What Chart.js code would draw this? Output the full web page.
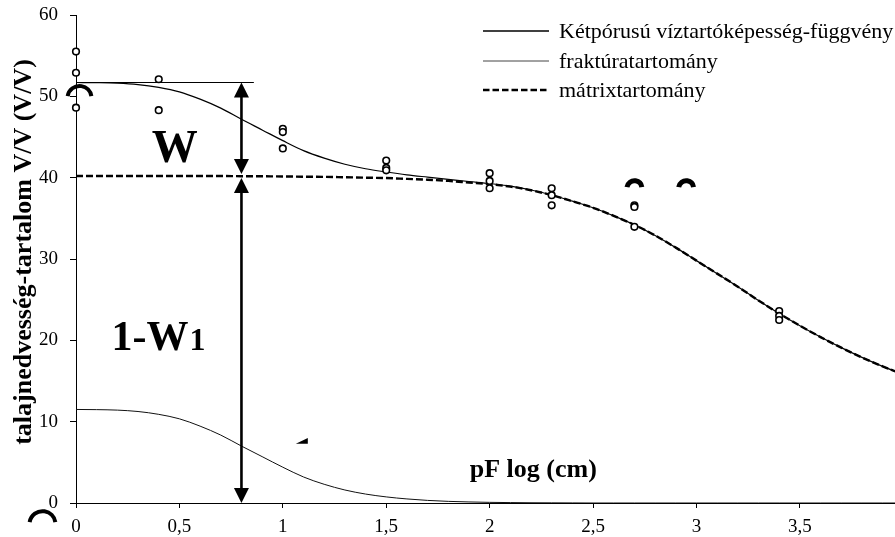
<!DOCTYPE html>
<html><head><meta charset="utf-8">
<script src="https://cdn.jsdelivr.net/npm/chart.js@4/dist/chart.umd.min.js"></script>
<style>html,body{margin:0;padding:0;background:#fff}#wrap{width:895px;height:537px}</style>
</head><body><div id="wrap"><canvas id="c" width="895" height="537"></canvas></div>
<script>
// pF values (x) for the model curves
const curveX = [0,0.1,0.2,0.3,0.4,0.5,0.6,0.7,0.8,0.9,1.0,1.1,1.2,1.3,1.4,1.5,1.6,1.7,1.8,1.9,2.0,2.1,2.2,2.3,2.4,2.5,2.6,2.7,2.8,2.9,3.0,3.1,3.2,3.3,3.4,3.5,3.6,3.7,3.8,3.9,4.0];
// Kétpórusú víztartóképesség-függvény (total)
const totalY = [51.7,51.68,51.62,51.45,51.1,50.55,49.65,48.55,47.18,45.87,44.55,43.32,42.4,41.65,41.1,40.7,40.35,40.07,39.8,39.53,39.28,38.95,38.48,37.87,37.11,36.3,35.3,34.2,32.9,31.4,29.8,28.2,26.6,24.9,23.3,21.8,20.4,19.1,17.9,16.8,15.8];
// fraktúratartomány
const fractureY = [11.5,11.48,11.42,11.25,10.9,10.35,9.45,8.35,7.0,5.7,4.4,3.2,2.3,1.6,1.1,0.75,0.5,0.32,0.2,0.13,0.08,0.05,0.03,0.02,0.01,0,0,0,0,0,0,0,0,0,0,0,0,0,0,0,0];
// mátrixtartomány
const matrixY = [40.2,40.2,40.2,40.2,40.2,40.2,40.2,40.2,40.18,40.17,40.15,40.12,40.1,40.05,40.0,39.95,39.85,39.75,39.6,39.4,39.2,38.9,38.45,37.85,37.1,36.3,35.3,34.2,32.9,31.4,29.8,28.2,26.6,24.9,23.3,21.8,20.4,19.1,17.9,16.8,15.8];
// measured points
const obsX = [0,0,0,0.4,0.4,1,1,1,1.5,1.5,1.5,2,2,2,2.3,2.3,2.3,2.7,2.7,2.7,3.4,3.4,3.4];
const obsY = [55.5,52.9,48.6,52.1,48.3,46.0,45.6,43.6,42.1,41.2,40.9,40.55,39.6,38.7,38.7,37.85,36.6,36.6,36.4,33.95,23.6,23.0,22.5];
// reference level line (saturation) and arrow levels
const refLineX = [0, 0.86];
const refLineY = 51.7;
const arrowX = 0.8;
const arrowLevels = [51.7, 40.2, 0];
// labels
const seriesLabels = ['Kétpórusú víztartóképesség-függvény','fraktúratartomány','mátrixtartomány'];
const xTickValues = [0,0.5,1,1.5,2,2.5,3,3.5];
const xTickLabels = ['0','0,5','1','1,5','2','2,5','3','3,5'];
const yTitle = 'talajnedvesség-tartalom V/V (V/V)';
const xTitle = 'pF log (cm)';

const pts = (xa, ya) => xa.map((v,i)=>({x:v,y:ya[i]}));
const SERIF = '"Liberation Serif","Times New Roman",serif';

const overlay = {
  id:'overlay',
  afterDatasetsDraw(chart){
    const {ctx, scales:{x,y}} = chart;
    ctx.save();
    ctx.fillStyle='#000'; ctx.strokeStyle='#000';
    // arrows
    const ax = x.getPixelForValue(arrowX);
    const head=(tipY,dir)=>{
      ctx.beginPath();
      ctx.moveTo(ax,tipY);
      ctx.lineTo(ax-7.5,tipY-dir*15);
      ctx.lineTo(ax+7.5,tipY-dir*15);
      ctx.closePath(); ctx.fill();
    };
    const arrow=(v1,v2,gapTop,gapBot)=>{
      const p1=y.getPixelForValue(v1)+gapTop, p2=y.getPixelForValue(v2)-gapBot;
      ctx.lineWidth=2.6;
      ctx.beginPath(); ctx.moveTo(ax,p1+12); ctx.lineTo(ax,p2-12); ctx.stroke();
      head(p1,-1); head(p2,1);
    };
    arrow(arrowLevels[0],arrowLevels[1],0,2);
    arrow(arrowLevels[1],arrowLevels[2],2,0);

    // texts
    ctx.textBaseline='alphabetic';
    ctx.font='bold 46px '+SERIF;
    ctx.textAlign='center';
    ctx.fillText('W', x.getPixelForValue(0.477), y.getPixelForValue(41.9));
    ctx.textAlign='left';
    ctx.font='bold 42px '+SERIF;
    const lx=x.getPixelForValue(0.172), ly=y.getPixelForValue(18.76);
    ctx.fillText('1-W', lx, ly);
    const w1=ctx.measureText('1-W').width;
    ctx.font='bold 32px '+SERIF;
    ctx.fillText('1', lx+w1+1, ly);
    ctx.font='bold 26px '+SERIF;
    ctx.fillText(xTitle, x.getPixelForValue(1.904), y.getPixelForValue(3.2));

    // y axis title
    ctx.save();
    ctx.translate(24, 252);
    ctx.rotate(-Math.PI/2);
    ctx.font='bold 26px '+SERIF; ctx.textAlign='center'; ctx.textBaseline='middle';
    ctx.fillText(yTitle,0,0);
    ctx.restore();

    // legend
    const lgX0=483, lgX1=549, lgT=559, rows=[31,61,90];
    ctx.font='22px '+SERIF; ctx.textBaseline='middle'; ctx.textAlign='left';
    const styles=[{w:1.5,c:'#000',d:[]},{w:1,c:'#444',d:[]},{w:2.5,c:'#000',d:[6.5,3]}];
    rows.forEach((ry,i)=>{
      ctx.lineWidth=styles[i].w; ctx.strokeStyle=styles[i].c; ctx.setLineDash(styles[i].d);
      ctx.beginPath(); ctx.moveTo(lgX0,ry); ctx.lineTo(lgX1,ry); ctx.stroke();
      ctx.setLineDash([]);
      ctx.fillStyle='#000';
      ctx.fillText(seriesLabels[i], lgT, ry+1);
    });

    // stray glyph fragments present in the original figure
    ctx.strokeStyle='#000'; ctx.lineWidth=4;
    const arcAt=(xv,yv,r)=>{ctx.beginPath();ctx.arc(x.getPixelForValue(xv),y.getPixelForValue(yv),r,Math.PI*1.05,Math.PI*1.95);ctx.stroke();};
    arcAt(0.017,49.8,12);
    arcAt(-0.162,-2.6,13);
    ctx.lineWidth=5;
    arcAt(2.70,38.7,7.5);
    arcAt(2.95,38.7,7.5);
    ctx.beginPath();
    ctx.moveTo(x.getPixelForValue(1.063),y.getPixelForValue(7.3));
    ctx.lineTo(x.getPixelForValue(1.121),y.getPixelForValue(8.0));
    ctx.lineTo(x.getPixelForValue(1.121),y.getPixelForValue(7.3));
    ctx.closePath(); ctx.fillStyle='#000'; ctx.fill();
    ctx.restore();
  }
};

const zeroPad = (s)=>{ s.paddingTop=0; s.paddingBottom=0; s.paddingLeft=0; s.paddingRight=0; };

new Chart(document.getElementById('c'), {
  type:'scatter',
  data:{datasets:[
    {label:'obs', data:pts(obsX,obsY), showLine:false, pointRadius:3.3, pointBorderWidth:1.6, pointBorderColor:'#000', pointBackgroundColor:'#fff', clip:false},
    {label:seriesLabels[0], data:pts(curveX,totalY), showLine:true, pointRadius:0, borderColor:'#000', borderWidth:1.2, cubicInterpolationMode:'monotone'},
    {label:seriesLabels[1], data:pts(curveX,fractureY), showLine:true, pointRadius:0, borderColor:'#111', borderWidth:1, cubicInterpolationMode:'monotone'},
    {label:seriesLabels[2], data:pts(curveX,matrixY), showLine:true, pointRadius:0, borderColor:'#000', borderWidth:2.4, borderDash:[7,3], cubicInterpolationMode:'monotone'},
    {label:'ref', data:refLineX.map(v=>({x:v,y:refLineY})), showLine:true, pointRadius:0, borderColor:'#000', borderWidth:1}
  ]},
  options:{
    responsive:false, animation:false, events:[],
    layout:{autoPadding:false, padding:{top:15,left:0,right:0,bottom:0}},
    plugins:{legend:{display:false}, tooltip:{enabled:false}},
    scales:{
      x:{type:'linear', min:0, max:3.96,
        afterBuildTicks:(s)=>{ s.ticks = xTickValues.map(v=>({value:v})); },
        afterFit:(s)=>{ s.height=34; zeroPad(s); },
        ticks:{autoSkip:false, maxRotation:0, color:'#000', font:{family:SERIF,size:19}, padding:8,
          callback:(v)=>{const i=xTickValues.indexOf(v); return i>=0?xTickLabels[i]:'';}},
        grid:{drawOnChartArea:false, drawTicks:true, tickLength:5, color:'#000'},
        border:{color:'#000', width:1}
      },
      y:{min:0, max:60,
        afterFit:(s)=>{ s.width=76; zeroPad(s); },
        ticks:{stepSize:10, color:'#000', font:{family:SERIF,size:19}, padding:12},
        grid:{drawOnChartArea:false, drawTicks:true, tickLength:6, color:'#000'},
        border:{color:'#000', width:1}
      }
    }
  },
  plugins:[overlay]
});
</script></body></html>
